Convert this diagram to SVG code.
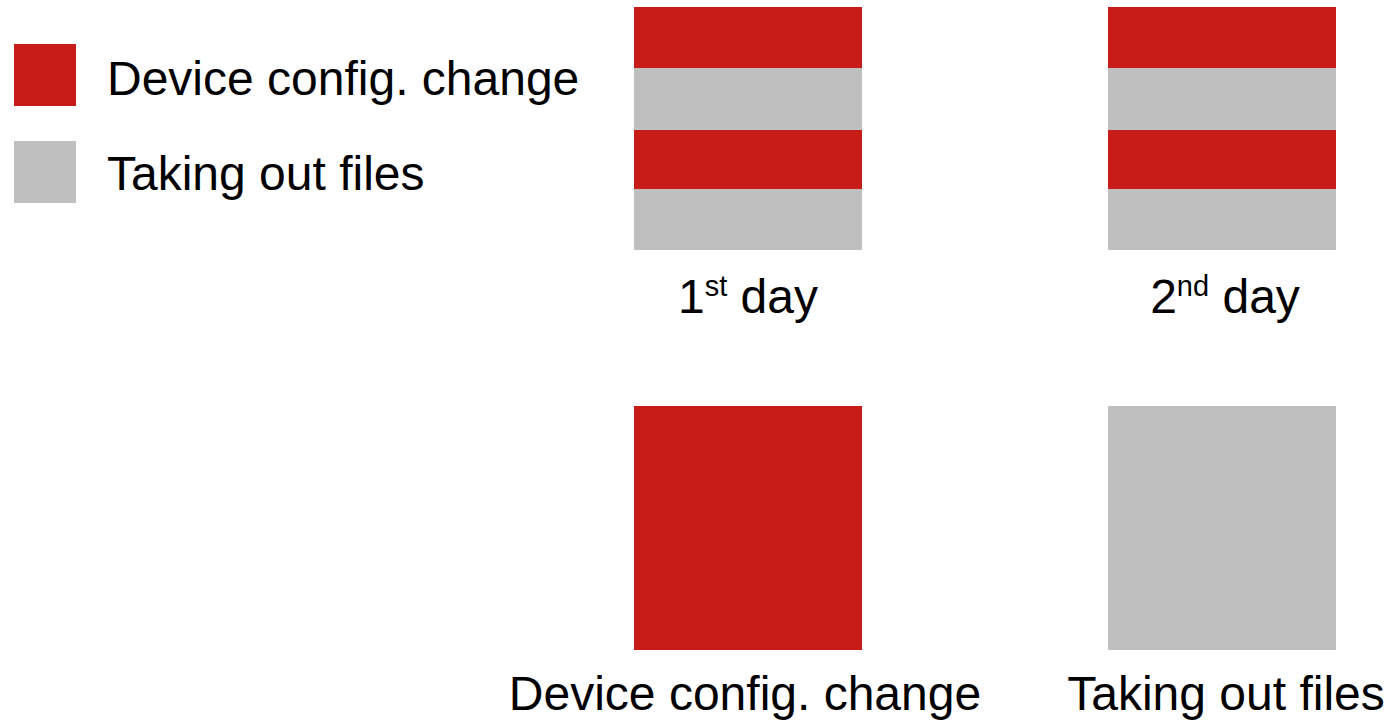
<svg xmlns="http://www.w3.org/2000/svg" width="1393" height="723" viewBox="0 0 1393 723">
<style>
.red{fill:#C81C18}
.gray{fill:#BFBFBF}
text{font-family:"Liberation Sans",Arial,sans-serif;font-size:48px;fill:#000}
.sup{font-size:29px}
</style>
<rect width="1393" height="723" fill="#fff"/>
<g id="legend">
<rect class="red" x="14" y="44" width="62" height="62"/>
<text x="107" y="95">Device config. change</text>
<rect class="gray" x="14" y="141" width="62" height="62"/>
<text x="107" y="190">Taking out files</text>
</g>
<g id="day1">
<rect class="red" x="634" y="7" width="228" height="61"/>
<rect class="gray" x="634" y="68" width="228" height="62"/>
<rect class="red" x="634" y="130" width="228" height="59"/>
<rect class="gray" x="634" y="189" width="228" height="61"/>
<text x="748" y="313" text-anchor="middle">1<tspan class="sup" dy="-17">st</tspan><tspan dy="17"> day</tspan></text>
</g>
<g id="day2">
<rect class="red" x="1108" y="7" width="228" height="61"/>
<rect class="gray" x="1108" y="68" width="228" height="62"/>
<rect class="red" x="1108" y="130" width="228" height="59"/>
<rect class="gray" x="1108" y="189" width="228" height="61"/>
<text x="1225" y="313" text-anchor="middle">2<tspan class="sup" dy="-17">nd</tspan><tspan dy="17"> day</tspan></text>
</g>
<g id="config">
<rect class="red" x="634" y="406" width="228" height="244"/>
<text x="745" y="710" text-anchor="middle">Device config. change</text>
</g>
<g id="files">
<rect class="gray" x="1108" y="406" width="228" height="244"/>
<text x="1226" y="710" text-anchor="middle">Taking out files</text>
</g>
<g id="connectors"/>
</svg>
